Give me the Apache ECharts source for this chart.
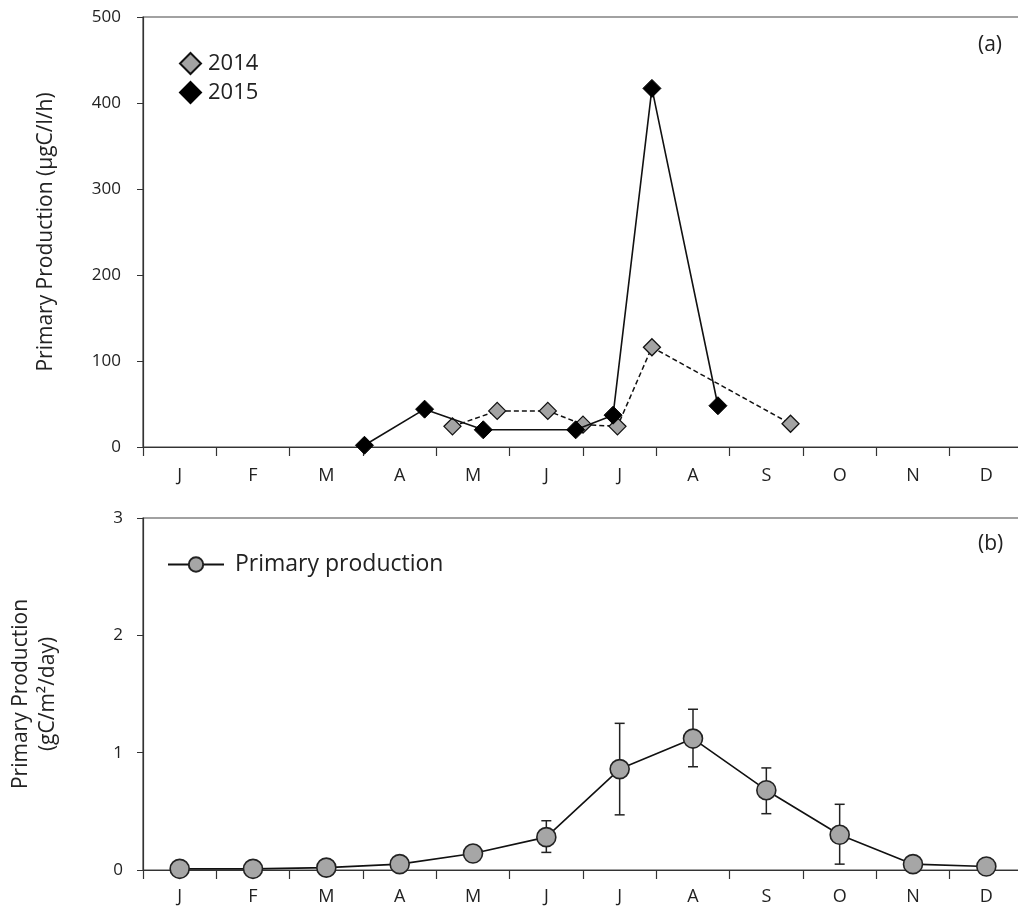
<!DOCTYPE html>
<html>
<head>
<meta charset="utf-8">
<script src="https://cdn.jsdelivr.net/npm/echarts@6/dist/echarts.min.js"></script>
<style>html,body{margin:0;padding:0;background:#fff}#c{width:1018px;height:911px}</style>
</head>
<body>
<div id="c"></div>
<script>
// ---- data ----
var months = ['J','F','M','A','M','J','J','A','S','O','N','D'];
// panel (a): x in month units (0 = start of Jan), y in µgC/l/h
var x2014 = [4.22, 4.83, 5.52, 6.00, 6.47, 6.94, 8.83];
var y2014 = [24, 42, 42, 26, 24, 116, 27];
var x2015 = [3.02, 3.84, 4.64, 5.90, 6.41, 6.94, 7.84];
var y2015 = [2, 44, 20, 20, 37, 417, 48];
// panel (b): monthly primary production gC/m2/day with error bars
var pp     = [0.01, 0.01, 0.02, 0.05, 0.14, 0.28, 0.86, 1.12, 0.68, 0.30, 0.05, 0.03];
var ppLow  = [null, null, null, null, null, 0.15, 0.47, 0.88, 0.48, 0.05, null, null];
var ppHigh = [null, null, null, null, null, 0.42, 1.25, 1.37, 0.87, 0.56, null, null];

var FONT = 'Open Sans';
var TXT = '#222';
var chart = echarts.init(document.getElementById('c'));

function pairs(xs, ys){ return xs.map(function(x,i){ return [x, ys[i]]; }); }
var errData = [];
pp.forEach(function(v,i){ if (ppLow[i] != null) errData.push([i, ppLow[i], ppHigh[i]]); });

var axisLine = {show:true, lineStyle:{color:'#333', width:1.2}};
var option = {
  animation:false,
  textStyle:{fontFamily:FONT},
  grid:[
    {left:143, top:17, width:880, height:430, show:true, borderColor:'#444', borderWidth:1.2,
     backgroundColor:'transparent', containLabel:false, outerBoundsMode:'none'},
    {left:143, top:518, width:880, height:352, show:true, borderColor:'#444', borderWidth:1.2,
     backgroundColor:'transparent', containLabel:false, outerBoundsMode:'none'}
  ],
  xAxis:[
    {type:'value', gridIndex:0, min:0, max:12, interval:1, axisLine:axisLine,
     axisTick:{show:true, length:9, lineStyle:{color:'#333', width:1.2}},
     axisLabel:{show:false}, splitLine:{show:false}},
    {type:'category', gridIndex:0, data:months, boundaryGap:true, position:'bottom',
     axisLine:{show:false}, axisTick:{show:false},
     axisLabel:{color:TXT, fontSize:18, fontFamily:FONT, margin:20}},
    {type:'category', gridIndex:1, data:months, boundaryGap:true, axisLine:axisLine,
     axisTick:{show:true, length:9, lineStyle:{color:'#333', width:1.2}},
     axisLabel:{color:TXT, fontSize:18, fontFamily:FONT, margin:18}}
  ],
  yAxis:[
    {type:'value', gridIndex:0, min:0, max:500, interval:100, axisLine:axisLine,
     axisTick:{show:true, length:6, lineStyle:{color:'#333'}},
     axisLabel:{color:TXT, fontSize:17, fontFamily:FONT, margin:22},
     splitLine:{show:false},
     name:'Primary Production (µgC/l/h)', nameLocation:'middle', nameRotate:90, nameGap:86,
     nameTextStyle:{color:TXT, fontSize:21, fontFamily:FONT}},
    {type:'value', gridIndex:1, min:0, max:3, interval:1, axisLine:axisLine,
     axisTick:{show:true, length:6, lineStyle:{color:'#333'}},
     axisLabel:{color:TXT, fontSize:17, fontFamily:FONT, margin:20},
     splitLine:{show:false},
     name:'Primary Production\n(gC/m²/day)', nameLocation:'middle', nameRotate:90, nameGap:81,
     nameTextStyle:{color:TXT, fontSize:21, fontFamily:FONT, lineHeight:27}}
  ],
  legend:[
    {data:[{name:'2014', icon:'diamond'},{name:'2015', icon:'diamond'}], orient:'vertical',
     left:174, top:47, itemWidth:21, itemHeight:21, itemGap:6,
     textStyle:{color:TXT, fontSize:22, fontFamily:FONT, padding:[0,0,0,2]}},
    {data:['Primary production'], left:162, top:548, itemWidth:56, itemHeight:18,
     textStyle:{color:TXT, fontSize:23, fontFamily:FONT, padding:[0,0,0,6]}}
  ],
  graphic:[
    {type:'text', left:978, top:35, style:{text:'(a)', fontSize:21, fontFamily:FONT, fill:TXT}},
    {type:'text', left:978, top:534, style:{text:'(b)', fontSize:21, fontFamily:FONT, fill:TXT}}
  ],
  series:[
    {name:'2014', type:'line', xAxisIndex:0, yAxisIndex:0, data:pairs(x2014, y2014),
     symbol:'diamond', symbolSize:17, z:3,
     lineStyle:{color:'#111', width:1.5, type:[5,3]},
     itemStyle:{color:'#a3a3a3', borderColor:'#111', borderWidth:1.3}},
    {name:'2015', type:'line', xAxisIndex:0, yAxisIndex:0, data:pairs(x2015, y2015),
     symbol:'diamond', symbolSize:18, z:4,
     lineStyle:{color:'#111', width:1.6},
     itemStyle:{color:'#000', borderColor:'#000', borderWidth:1}},
    {name:'err', type:'custom', xAxisIndex:2, yAxisIndex:1, data:errData, z:2,
     renderItem:function(params, api){
       var lo = api.coord([api.value(0), api.value(1)]);
       var hi = api.coord([api.value(0), api.value(2)]);
       var w = 5;
       var st = {stroke:'#222', lineWidth:1.5};
       return {type:'group', children:[
         {type:'line', shape:{x1:lo[0], y1:lo[1], x2:hi[0], y2:hi[1]}, style:st},
         {type:'line', shape:{x1:lo[0]-w, y1:lo[1], x2:lo[0]+w, y2:lo[1]}, style:st},
         {type:'line', shape:{x1:hi[0]-w, y1:hi[1], x2:hi[0]+w, y2:hi[1]}, style:st}
       ]};
     }},
    {name:'Primary production', type:'line', xAxisIndex:2, yAxisIndex:1, data:pp,
     symbol:'circle', symbolSize:19, z:5,
     lineStyle:{color:'#111', width:1.6},
     itemStyle:{color:'#a6a6a6', borderColor:'#222', borderWidth:1.6}}
  ]
};
chart.setOption(option);
</script>
</body>
</html>
